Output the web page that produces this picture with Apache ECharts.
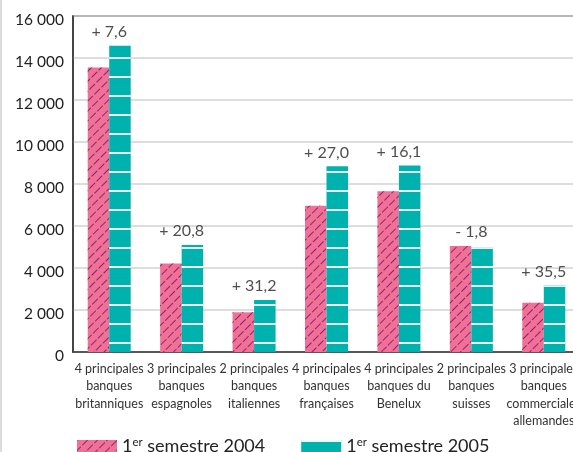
<!DOCTYPE html>
<html>
<head>
<meta charset="utf-8">
<script src="https://cdn.jsdelivr.net/npm/echarts@6/dist/echarts.min.js"></script>
<style>
    html, body { margin: 0; padding: 0; background: #fff; }
    #main { width: 573px; height: 452px; }
</style>
</head>
<body>
<div id="main"></div>
<script>
    // catégories (axe x)
    var categories = [
        '4 principales\nbanques\nbritanniques',
        '3 principales\nbanques\nespagnoles',
        '2 principales\nbanques\nitaliennes',
        '4 principales\nbanques\nfrançaises',
        '4 principales\nbanques du\nBenelux',
        '2 principales\nbanques\nsuisses',
        '3 principales\nbanques\ncommerciales\nallemandes'
    ];
    var sem2004 = [13550, 4220, 1890, 6960, 7650, 5050, 2340];
    var sem2005 = [14580, 5100, 2480, 8840, 8880, 4960, 3170];
    var variations = ['+ 7,6', '+ 20,8', '+ 31,2', '+ 27,0', '+ 16,1', '- 1,8', '+ 35,5'];
    var yTicks = [0, 2000, 4000, 6000, 8000, 10000, 12000, 14000, 16000];

    var font = 'Lato, "Open Sans", sans-serif';

    // position des étiquettes : au-dessus de la barre la plus haute
    var labelData = sem2004.map(function (v, i) {
        return Math.max(v, sem2005[i]);
    });

    var myChart = echarts.init(document.getElementById('main'));
    var option = {
        backgroundColor: '#fff',
        animation: false,
        graphic: [{
            type: 'rect',
            shape: { x: 0, y: 0, width: 2, height: 452 },
            style: { fill: '#dcdcdc' }
        }],
        grid: {
            left: 73,
            top: 16,
            width: 507,
            height: 336,
            outerBoundsMode: 'none',
            containLabel: false,
            show: true,
            borderColor: '#3a3a3a',
            borderWidth: 1.5
        },
        legend: {
            data: ['1er semestre 2004', '1er semestre 2005'],
            left: 72,
            top: 431,
            itemWidth: 40,
            itemHeight: 12,
            itemGap: 36,
            icon: 'rect',
            formatter: function (name) {
                return '{n|1}{s|er}{n|' + name.slice(3) + '}';
            },
            textStyle: {
                rich: {
                    n: { fontFamily: font, fontSize: 18, color: '#222' },
                    s: { fontFamily: font, fontSize: 11.5, color: '#222', verticalAlign: 'top', padding: [0, 0, 8, 0] }
                }
            }
        },
        xAxis: {
            type: 'category',
            data: categories,
            axisTick: { show: false },
            axisLine: { lineStyle: { color: '#3a3a3a', width: 1.5 } },
            axisLabel: {
                interval: 0,
                margin: 8,
                fontFamily: font,
                fontSize: 12.5,
                lineHeight: 17.5,
                color: '#333',
                hideOverlap: false
            }
        },
        yAxis: {
            type: 'value',
            min: 0,
            max: 16000,
            interval: 2000,
            axisLine: { show: true, lineStyle: { color: '#3a3a3a', width: 1.5 } },
            axisTick: { show: false },
            splitLine: { lineStyle: { color: '#d2d2d2', width: 1.5 } },
            axisLabel: {
                margin: 9,
                fontFamily: font,
                fontSize: 15.5,
                color: '#222',
                verticalAlign: 'top',
                padding: [-4, 0, 0, 0],
                formatter: function (v) {
                    return String(v).replace(/\B(?=(\d{3})+(?!\d))/g, ' ');
                }
            }
        },
        series: [{
            name: '1er semestre 2004',
            type: 'bar',
            barWidth: 21.5,
            barGap: '0%',
            data: sem2004,
            itemStyle: {
                color: '#f07096',
                decal: {
                    symbol: 'rect',
                    color: '#8c2372',
                    dashArrayX: [[8, 2]],
                    dashArrayY: [1, 6],
                    rotation: -Math.PI / 4
                }
            }
        }, {
            name: '1er semestre 2005',
            type: 'bar',
            barWidth: 21.5,
            data: sem2005,
            itemStyle: {
                color: '#00b2ad',
                decal: {
                    symbol: 'rect',
                    color: 'rgba(255,255,255,0.92)',
                    dashArrayX: [1, 0],
                    dashArrayY: [2, 16.2],
                    rotation: 0
                }
            }
        }, {
            name: 'variation',
            type: 'scatter',
            symbolSize: 0,
            silent: true,
            data: labelData,
            label: {
                show: true,
                position: 'top',
                distance: 6,
                fontFamily: font,
                fontSize: 16,
                color: '#222',
                formatter: function (p) {
                    return variations[p.dataIndex];
                }
            }
        }]
    };
    myChart.setOption(option);
</script>
</body>
</html>
